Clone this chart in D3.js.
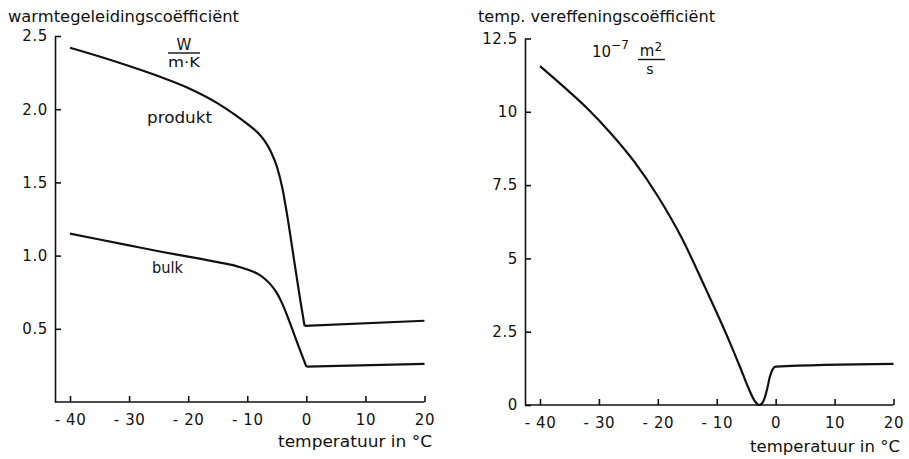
<!DOCTYPE html>
<html>
<head>
<meta charset="utf-8">
<script src="https://cdn.jsdelivr.net/npm/d3@7"></script>
<style>
  body { margin: 0; background: #fff; }
  svg text { font-family: "DejaVu Sans", sans-serif; fill: #111; }
</style>
</head>
<body>
<div id="chart"></div>
<script>
// temperature ticks shared by both panels
var tempTicks = [-40, -30, -20, -10, 0, 10, 20];

// left: warmtegeleidingscoefficient (W/m.K)
var lambdaTicks = [0.5, 1.0, 1.5, 2.0, 2.5];
var produktTemp = [-40, -35, -30, -25, -20, -15, -12, -10, -8, -7, -6, -5, -4, -3.3, -2, -1, -0.3];
var produktVal  = [2.42, 2.36, 2.295, 2.225, 2.145, 2.04, 1.96, 1.90, 1.83, 1.78, 1.71, 1.61, 1.45, 1.29, 0.95, 0.69, 0.52];
var produktFlatTemp = [-0.3, 20];
var produktFlatVal  = [0.52, 0.555];

var bulkTemp = [-40, -35, -30, -25, -20, -15, -12, -10, -8, -7, -6, -5, -4, -3, -2, -1, 0];
var bulkVal  = [1.15, 1.11, 1.07, 1.03, 0.993, 0.955, 0.93, 0.905, 0.87, 0.84, 0.80, 0.745, 0.665, 0.565, 0.455, 0.348, 0.241];
var bulkFlatTemp = [0, 20];
var bulkFlatVal  = [0.241, 0.26];

// right: temperatuurvereffeningscoefficient (1e-7 m2/s)
var alphaTicks = [0, 2.5, 5, 7.5, 10, 12.5];
var alphaTemp = [-40, -36, -32, -28, -24, -20, -16, -12, -8, -6, -4.5, -3.5, -2.8, -2.1, -1.5, -1, -0.5, 0, 20];
var alphaVal  = [11.56, 10.86, 10.12, 9.27, 8.30, 7.12, 5.72, 4.02, 2.24, 1.27, 0.52, 0.12, 0.0, 0.12, 0.5, 0.95, 1.22, 1.31, 1.40];

var W = 909, H = 459;

var svg = d3.select("#chart")
    .append("svg")
    .attr("width", W)
    .attr("height", H);

function zip(a, b) {
    return a.map(function (d, i) { return [d, b[i]]; });
}

function panel(o) {
    var x = d3.scaleLinear().domain([-40, 20]).range(o.xr);
    var y = d3.scaleLinear().domain([0, o.ymax]).range(o.yr);
    var g = svg.append("g");

    // y axis, ticks pointing inward
    var ya = g.append("g")
        .attr("transform", "translate(" + o.ax + ",0)")
        .call(d3.axisLeft(y)
            .tickValues(o.yticks)
            .tickSizeInner(-6)
            .tickSizeOuter(0)
            .tickPadding(7)
            .tickFormat(o.yfmt));

    // x axis
    var xa = g.append("g")
        .attr("transform", "translate(0," + o.yr[0] + ")")
        .call(d3.axisBottom(x)
            .tickValues(tempTicks)
            .tickSizeInner(-6)
            .tickSizeOuter(0)
            .tickPadding(12)
            .tickFormat(function (d) { return d < 0 ? "- " + Math.abs(d) : d; }));
    xa.select(".domain").remove();
    xa.append("line")
        .attr("x1", o.ax).attr("x2", x(20))
        .attr("y1", 0).attr("y2", 0)
        .attr("stroke", "#111");

    g.selectAll("g").attr("font-size", null);
    g.selectAll(".tick text")
        .style("font-size", "15px")
        .style("letter-spacing", "0.6px")
        .style("fill", "#111");
    g.selectAll(".domain, .tick line, line").attr("stroke", "#111").attr("stroke-width", 1.6);

    var smooth = d3.line()
        .x(function (d) { return x(d[0]); })
        .y(function (d) { return y(d[1]); })
        .curve(d3.curveMonotoneX);
    var straight = d3.line()
        .x(function (d) { return x(d[0]); })
        .y(function (d) { return y(d[1]); });

    o.curves.forEach(function (c) {
        g.append("path")
            .attr("d", (c.linear ? straight : smooth)(c.pts))
            .attr("fill", "none")
            .attr("stroke", "#111")
            .attr("stroke-width", 2.2)
            .attr("stroke-linejoin", "miter");
    });

    return { g: g, x: x, y: y };
}

var left = panel({
    xr: [70, 424.5], yr: [402, 36], ax: 55, ymax: 2.5,
    yticks: lambdaTicks,
    yfmt: d3.format(".1f"),
    curves: [
        { pts: zip(produktTemp, produktVal) },
        { pts: zip(produktFlatTemp, produktFlatVal), linear: true },
        { pts: zip(bulkTemp, bulkVal) },
        { pts: zip(bulkFlatTemp, bulkFlatVal), linear: true }
    ]
});

var right = panel({
    xr: [540, 893.5], yr: [405, 38.5], ax: 525, ymax: 12.5,
    yticks: alphaTicks,
    yfmt: function (d) { return String(d); },
    curves: [
        { pts: zip(alphaTemp, alphaVal) }
    ]
});

// titles
svg.append("text").attr("x", 8).attr("y", 22)
    .attr("textLength", 231).attr("lengthAdjust", "spacingAndGlyphs")
    .style("font-size", "15px")
    .text("warmtegeleidingscoëfficiënt");
svg.append("text").attr("x", 478).attr("y", 22)
    .attr("textLength", 237).attr("lengthAdjust", "spacingAndGlyphs")
    .style("font-size", "15px")
    .text("temp. vereffeningscoëfficiënt");

// axis titles
svg.append("text").attr("x", 278).attr("y", 447)
    .attr("textLength", 154).attr("lengthAdjust", "spacingAndGlyphs")
    .style("font-size", "15px")
    .text("temperatuur in °C");
svg.append("text").attr("x", 750).attr("y", 452)
    .attr("textLength", 150).attr("lengthAdjust", "spacingAndGlyphs")
    .style("font-size", "15px")
    .text("temperatuur in °C");

// curve labels
svg.append("text").attr("x", 147).attr("y", 123)
    .attr("textLength", 65).attr("lengthAdjust", "spacingAndGlyphs")
    .style("font-size", "15px").text("produkt");
svg.append("text").attr("x", 152).attr("y", 273)
    .attr("textLength", 31).attr("lengthAdjust", "spacingAndGlyphs")
    .style("font-size", "15px").text("bulk");

// unit W / m.K
svg.append("text").attr("x", 184).attr("y", 50).attr("text-anchor", "middle")
    .style("font-size", "15px").text("W");
svg.append("line").attr("x1", 168).attr("x2", 200).attr("y1", 53).attr("y2", 53)
    .attr("stroke", "#111").attr("stroke-width", 1.4);
svg.append("text").attr("x", 184).attr("y", 67).attr("text-anchor", "middle")
    .attr("textLength", 32).attr("lengthAdjust", "spacingAndGlyphs")
    .style("font-size", "14px").text("m·K");

// unit 10^-7 m2/s
var u = svg.append("text").attr("x", 592).attr("y", 57).style("font-size", "15px");
u.append("tspan").text("10");
u.append("tspan").attr("dy", -8).style("font-size", "12px").text("−7");
var m2 = svg.append("text").attr("x", 651).attr("y", 56).attr("text-anchor", "middle")
    .style("font-size", "15px");
m2.append("tspan").text("m");
m2.append("tspan").attr("dy", -5).style("font-size", "12px").text("2");
svg.append("line").attr("x1", 638).attr("x2", 665).attr("y1", 59.5).attr("y2", 59.5)
    .attr("stroke", "#111").attr("stroke-width", 1.4);
svg.append("text").attr("x", 650).attr("y", 74).attr("text-anchor", "middle")
    .style("font-size", "14px").text("s");
</script>
</body>
</html>
